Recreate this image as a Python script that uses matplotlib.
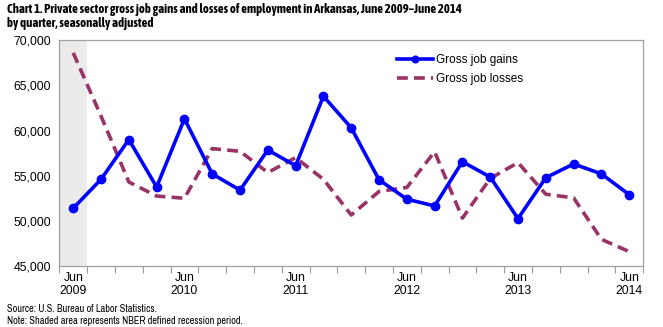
import matplotlib
matplotlib.use('Agg')
import matplotlib.pyplot as plt
import matplotlib.patheffects as pe
from matplotlib import font_manager

# quarterly data, Jun 2009 - Jun 2014
quarters = list(range(21))
gains = [51400, 54600, 59000, 53750, 61300, 55200, 53400, 57850, 56100, 63800, 60300,
         54550, 52400, 51650, 56550, 54850, 50250, 54780, 56300, 55200, 52900]
losses = [68600, 61600, 54300, 52750, 52500, 58000, 57700, 55350, 57000, 54600, 50650,
          53250, 53700, 57650, 50300, 54700, 56450, 52950, 52550, 47950, 46600]
year_labels = ['Jun\n2009', 'Jun\n2010', 'Jun\n2011', 'Jun\n2012', 'Jun\n2013', 'Jun\n2014']
yticks = [45000, 50000, 55000, 60000, 65000, 70000]

# look for a narrow face for title/footer (reference uses Arial Narrow)
fonts = font_manager.fontManager.ttflist
narrow_fonts = [f for f in fonts if 'Narrow' in f.name or 'Condensed' in f.name]
narrow = narrow_fonts[0].name if narrow_fonts else None
narrow_bold = next((f.name for f in narrow_fonts
                    if isinstance(f.weight, int) and f.weight >= 600 or f.weight == 'bold'), None)
plt.rcParams['font.family'] = ['Liberation Sans', 'DejaVu Sans']

fig = plt.figure(figsize=(6.63, 3.27), dpi=100)
ax = fig.add_axes([0.0895, 0.1865, 0.8805, 0.6905])

# recession shading
ax.axvspan(-0.5, 0.5, color='#EBEBEB', zorder=0, lw=0)

ax.plot(quarters, gains, color='#0000FF', lw=2.6, marker='o', markersize=6,
        label='Gross job gains', zorder=3)
ax.plot(quarters, losses, color='#993366', lw=2.6, dashes=(3, 1.7),
        label='Gross job losses', zorder=2)

ax.set_xlim(-0.5, 20.5)
ax.set_ylim(45000, 70000)
ax.set_yticks(yticks)
ax.set_yticklabels([f'{v:,}' for v in yticks])
ax.tick_params(axis='y', length=0, pad=6, labelsize=8.8)

# tick marks between quarters, labels every June
ax.set_xticks([q - 0.5 for q in quarters] + [20.5])
ax.set_xticklabels([])
ax.tick_params(axis='x', which='major', length=5, color='#999999', width=0.8)
ax.set_xticks(quarters[::4], minor=True)
ax.set_xticklabels(year_labels, minor=True)
ax.tick_params(axis='x', which='minor', length=0, pad=4, labelsize=8.8)

for s in ax.spines.values():
    s.set_color('#A0A0A0')
    s.set_linewidth(0.9)

leg = ax.legend(loc='upper left', bbox_to_anchor=(0.578, 0.94), frameon=False,
                fontsize=8.5, handlelength=3.1, handletextpad=0.25, borderpad=0,
                borderaxespad=0, labelspacing=0.6, markerscale=0.8)

title = 'Chart 1. Private sector gross job gains and losses of employment in Arkansas, June 2009\u2013June 2014\nby quarter, seasonally adjusted'
note = 'Source: U.S. Bureau of Labor Statistics.\nNote: Shaded area represents NBER defined recession period.'
if narrow_bold:
    fig.text(0.011, 0.99, title, ha='left', va='top', fontsize=9.2, fontweight='bold',
             family=narrow_bold, linespacing=1.05)
elif narrow:
    # no bold narrow face: thicken the regular one with a stroke
    fig.text(0.011, 0.99, title, ha='left', va='top', fontsize=9.2, family=narrow,
             linespacing=1.05, path_effects=[pe.withStroke(linewidth=0.6, foreground='black')])
else:
    fig.text(0.011, 0.985, title, ha='left', va='top', fontsize=7.4, fontweight='bold',
             linespacing=1.25)
if narrow:
    fig.text(0.011, 0.008, note, ha='left', va='baseline', fontsize=7.35, family=narrow,
             linespacing=1.35)
else:
    fig.text(0.011, 0.008, note, ha='left', va='baseline', fontsize=6.6, linespacing=1.5)

fig.savefig('out.png', dpi=100)
